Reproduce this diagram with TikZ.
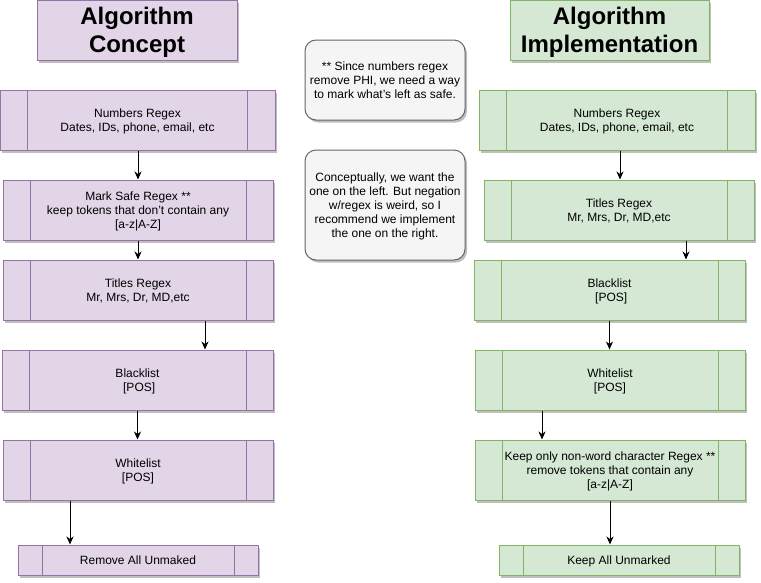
\documentclass[tikz,border=0pt]{standalone}
\usepackage{fontspec}
\setmainfont{Liberation Sans}
\usetikzlibrary{arrows.meta,shadows}
\definecolor{concfill}{HTML}{E1D5E7}
\definecolor{concline}{HTML}{9673A6}
\definecolor{implfill}{HTML}{D5E8D4}
\definecolor{implline}{HTML}{82B366}
\definecolor{notefill}{HTML}{F5F5F5}
\definecolor{noteline}{HTML}{666666}
\newcommand{\boxfont}{\fontsize{12}{14}\selectfont}
\newcommand{\titlefont}{\fontsize{24}{28}\selectfont\bfseries}
\tikzset{
  shade/.style={drop shadow={shadow xshift=2pt,shadow yshift=-2.5pt,opacity=0.25,fill=black}},
  titlebox/.style={draw=#1line,fill=#1fill,line width=1pt,inner sep=0pt,text depth=0pt,
    minimum height=60pt,align=center,font=\titlefont,shade},
  procbox/.style 2 args={draw=#2line,fill=#2fill,line width=1pt,inner sep=0pt,text depth=0pt,
    minimum height=60pt,align=center,font=\boxfont,shade,
    path picture={\draw[#2line,line width=1pt]
      ([xshift=#1]path picture bounding box.north west) -- ([xshift=#1]path picture bounding box.south west)
      ([xshift=-#1]path picture bounding box.north east) -- ([xshift=-#1]path picture bounding box.south east);}},
  notebox/.style={draw=noteline,fill=notefill,line width=1pt,rounded corners=11pt,
    inner sep=0pt,text depth=0pt,minimum width=160pt,align=center,font=\boxfont,shade},
  flow/.style={line width=1pt,-{Stealth[length=8pt,width=7pt,inset=2.5pt]}}
}
\begin{document}
\begin{tikzpicture}[x=1pt,y=-1pt]
\useasboundingbox (0,0) rectangle (761,582);
% concept column
\node[titlebox=conc,minimum width=200pt] (ctitle) at (137,30) {Algorithm\\Concept};
\node[procbox={27.5pt}{conc},minimum width=275pt] (cnum) at (137.5,120) {Numbers Regex\\Dates, IDs, phone, email, etc};
\node[procbox={27pt}{conc},minimum width=270pt] (csafe) at (138,210) {Mark Safe Regex **\\keep tokens that don't contain any\\{[a-z\textbar A-Z]}};
\node[procbox={27pt}{conc},minimum width=270pt] (ctitles) at (138,290) {Titles Regex\\Mr, Mrs, Dr, MD,etc};
\node[procbox={27pt}{conc},minimum width=271pt] (cblack) at (137.5,380) {Blacklist\\\mbox{ [POS]}};
\node[procbox={27pt}{conc},minimum width=270pt] (cwhite) at (138,470) {Whitelist\\{[POS]}};
\node[procbox={24pt}{conc},minimum width=240pt,minimum height=30pt] (cremove) at (138,560) {Remove All Unmaked};
% implementation column
\node[titlebox=impl,minimum width=199pt] (ititle) at (609.5,30) {Algorithm\\Implementation};
\node[procbox={27.5pt}{impl},minimum width=276pt] (inum) at (617,120) {Numbers Regex\\Dates, IDs, phone, email, etc};
\node[procbox={27pt}{impl},minimum width=270pt] (ititles) at (619,210) {Titles Regex\\Mr, Mrs, Dr, MD,etc};
\node[procbox={27pt}{impl},minimum width=271pt] (iblack) at (609.5,290) {Blacklist\\\mbox{ [POS]}};
\node[procbox={27pt}{impl},minimum width=270pt] (iwhite) at (610,380) {Whitelist\\{[POS]}};
\node[procbox={27pt}{impl},minimum width=270pt] (ikeep) at (610,470) {Keep only non-word character Regex **\\remove tokens that contain any\\{[a-z\textbar A-Z]}};
\node[procbox={24pt}{impl},minimum width=240pt,minimum height=30pt] (iunmark) at (619,560) {Keep All Unmarked};
% notes
\node[notebox,minimum height=80pt] (note1) at (385,80) {** Since numbers regex\\remove PHI, we need a way\\to mark what's left as safe.};
\node[notebox,minimum height=110pt] (note2) at (385,205) {Conceptually, we want the\\one on the left. But negation\\w/regex is weird, so I\\recommend we implement\\the one on the right.};
% arrows
\draw[flow] ([xshift=0.5pt]cnum.south) -- ([xshift=0.5pt]cnum.south |- csafe.north);
\draw[flow] (csafe.south) -- (csafe.south |- ctitles.north);
\draw[flow] ([xshift=67pt]ctitles.south) -- ([xshift=67pt]ctitles.south |- cblack.north);
\draw[flow] (cblack.south) -- (cblack.south |- cwhite.north);
\draw[flow] ([xshift=-68pt]cwhite.south) -- ([xshift=-68pt]cwhite.south |- cremove.north);
\draw[flow] ([xshift=3pt]inum.south) -- ([xshift=3pt]inum.south |- ititles.north);
\draw[flow] ([xshift=67pt]ititles.south) -- ([xshift=67pt]ititles.south |- iblack.north);
\draw[flow] (iblack.south) -- (iblack.south |- iwhite.north);
\draw[flow] ([xshift=-68pt]iwhite.south) -- ([xshift=-68pt]iwhite.south |- ikeep.north);
\draw[flow] (ikeep.south) -- (ikeep.south |- iunmark.north);
\end{tikzpicture}
\end{document}
